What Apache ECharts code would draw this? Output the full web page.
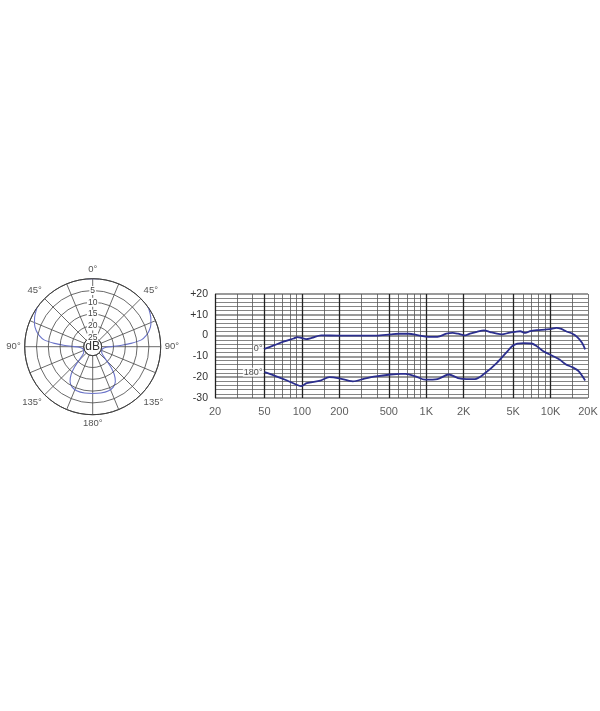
<!DOCTYPE html>
<html>
<head>
<meta charset="utf-8">
<script src="https://cdn.jsdelivr.net/npm/echarts@6/dist/echarts.min.js"></script>
<style>
  html, body { margin: 0; padding: 0; background: #fff; }
  #chart { width: 600px; height: 711px; }
</style>
</head>
<body>
<div id="chart"></div>
<script>
// ---- Frequency response data (Hz, dB) ----
const freq0 = [50, 60, 72, 86, 92, 99, 108, 120, 143, 200, 394, 518, 600, 722, 868, 1045, 1230, 1450, 1630, 1800, 2050, 2250, 2550, 2920, 3270, 3700, 4070, 4600, 5200, 5700, 6250, 6850, 7750, 9000, 10200, 11100, 12200, 13300, 15000, 16400, 17900, 18970];
const db0 = [-6.4, -4.6, -2.8, -1.4, -0.7, -1.1, -1.7, -1.1, 0.1, 0, 0, 0.6, 0.9, 0.9, 0.1, -0.6, -0.6, 0.9, 1.3, 0.9, 0.1, 0.9, 1.8, 2.5, 1.7, 0.9, 0.6, 1.3, 1.8, 2.1, 1.3, 2.1, 2.6, 2.9, 3.2, 3.7, 3.2, 2.1, 0.9, -0.7, -3.4, -6.6];

const freq180 = [50, 60, 76, 94, 99, 109, 141, 166, 195, 257, 318, 394, 518, 622, 680, 818, 980, 1230, 1520, 1800, 2110, 2470, 2980, 3700, 4460, 4900, 5400, 6070, 7070, 7750, 8750, 10500, 11800, 13300, 15000, 16800, 18970];
const db180 = [-17.6, -19.2, -21.6, -24.0, -24.3, -22.9, -21.6, -20.0, -20.4, -22.0, -20.7, -19.6, -18.7, -18.4, -18.4, -19.6, -21.2, -20.9, -18.7, -20.4, -20.9, -20.9, -18.0, -13.1, -7.8, -5.1, -3.8, -3.6, -3.8, -5.1, -7.5, -9.9, -11.5, -13.9, -15.2, -17.1, -21.6];

const curveNames = ['0°', '180°'];

// ---- Frequency axis ticks / grid ----
const tickFreqs = [20, 50, 100, 200, 500, 1000, 2000, 5000, 10000, 20000];
const tickLabels = ['20', '50', '100', '200', '500', '1K', '2K', '5K', '10K', '20K'];
const majorGridFreqs = [20, 50, 100, 200, 500, 1000, 2000, 5000, 10000];
const minorGridFreqs = [30, 40, 60, 70, 80, 90, 150, 300, 400, 600, 700, 800, 900, 1500, 3000, 4000, 6000, 7000, 8000, 9000, 15000, 20000];

// ---- Polar pattern data (angle in degrees, level in dB) ----
const polarAngles = [0, 10, 20, 30, 40, 50, 57, 63, 69, 74, 78, 82, 85, 87, 89, 92, 100, 112, 124, 131, 135, 138, 142, 147, 153, 160, 170, 180,
  190, 200, 207, 213, 218, 222, 225, 229, 236, 248, 260, 268, 271, 273, 275, 278, 282, 286, 291, 297, 303, 310, 320, 330, 340, 350, 360];
const polarDb = [0, 0.6, 1.1, 1.3, 1.2, 0.7, -0.3, -1.2, -2.4, -3.9, -5.6, -8, -12.5, -16.5, -20, -23, -24.4, -24.7, -24.2, -22.8, -20.5, -17.5, -14, -11.2, -9.6, -9.0, -8.9, -9.0,
  -8.9, -9.0, -9.6, -11.2, -14, -17.5, -20.5, -22.8, -24.2, -24.7, -24.4, -23, -20, -16.5, -12.5, -8, -5.6, -3.9, -2.4, -1.2, -0.3, 0.7, 1.2, 1.3, 1.1, 0.6, 0];

const FONT = 'Liberation Sans, Arial, sans-serif';
const polarCenter = [92.7, 346.7];

const chart = echarts.init(document.getElementById('chart'));

const option = {
  animation: false,
  backgroundColor: '#fff',
  textStyle: { fontFamily: FONT },
  graphic: [{
    type: 'text',
    x: polarCenter[0],
    y: polarCenter[1],
    z: 10,
    style: { text: 'dB', fill: '#333', font: '12px ' + FONT, align: 'center', verticalAlign: 'middle' }
  }],
  grid: { left: 215, right: 12, top: 294, bottom: 313 },
  xAxis: {
    type: 'log', logBase: 10, min: 20, max: 20000,
    axisLine: { show: false }, axisTick: { show: false },
    axisLabel: { show: false }, splitLine: { show: false }
  },
  yAxis: {
    type: 'value', min: -30, max: 20, interval: 10,
    axisLine: { show: false }, axisTick: { show: false },
    axisLabel: {
      color: '#333', fontSize: 10.5, margin: 7, fontFamily: FONT,
      formatter: v => (v > 0 ? '+' + v : String(v))
    },
    splitLine: { lineStyle: { color: '#9a9a9a', width: 2 } },
    minorTick: { show: false, splitNumber: 5 },
    minorSplitLine: { show: true, lineStyle: { color: '#666', width: 0.8 } }
  },
  polar: { center: polarCenter, radius: [9, 68] },
  angleAxis: {
    type: 'value', min: 0, max: 360, interval: 22.5,
    startAngle: 90, clockwise: true,
    axisLine: { lineStyle: { color: '#333', width: 1 } },
    axisTick: { show: false },
    splitLine: { lineStyle: { color: '#444', width: 0.8 } },
    axisLabel: {
      margin: 4, color: '#555', fontSize: 9.5, fontFamily: FONT,
      formatter: v => {
        if (v >= 360 || v % 45 !== 0) return '';
        const a = v > 180 ? 360 - v : v;
        return a + '°';
      }
    }
  },
  radiusAxis: {
    type: 'value', min: -25, max: 0, interval: 5, z: 5,
    axisLine: { show: false }, axisTick: { show: false },
    splitLine: { lineStyle: { color: '#444', width: 0.8 } },
    axisLabel: {
      margin: 0, align: 'center', verticalAlign: 'middle',
      backgroundColor: '#fff', padding: [0, 1],
      fontSize: 8.5, color: '#444', fontFamily: FONT,
      formatter: v => (v === 0 ? '' : String(-v))
    }
  },
  series: [
    {
      // grid lines and frequency tick labels
      type: 'scatter',
      silent: true,
      symbolSize: 0,
      z: 2,
      data: tickFreqs.map(f => [f, -30]),
      label: {
        show: true, position: 'bottom', distance: 8,
        color: '#333', fontSize: 11, fontFamily: FONT,
        formatter: p => tickLabels[p.dataIndex]
      },
      markLine: {
        silent: true,
        symbol: ['none', 'none'],
        label: { show: false },
        data: majorGridFreqs.map(f => ({ xAxis: f, lineStyle: { color: '#222', width: 1.3, type: 'solid' } }))
          .concat(minorGridFreqs.map(f => ({ xAxis: f, lineStyle: { color: '#555', width: 0.8, type: 'solid' } })))
      }
    },
    {
      name: '0°',
      type: 'line',
      data: freq0.map((f, i) => [f, db0[i]]),
      smooth: 0.3, showSymbol: false, silent: true, z: 5,
      lineStyle: { color: '#2b2e8e', width: 1.8 }
    },
    {
      name: '180°',
      type: 'line',
      data: freq180.map((f, i) => [f, db180[i]]),
      smooth: 0.3, showSymbol: false, silent: true, z: 5,
      lineStyle: { color: '#2b2e8e', width: 1.8 }
    },
    {
      // curve name labels at start of each curve
      type: 'scatter',
      silent: true,
      symbolSize: 0,
      z: 6,
      data: [[freq0[0], db0[0]], [freq180[0], db180[0]]],
      label: {
        show: true, position: 'left', distance: 1,
        color: '#222', fontSize: 9, fontFamily: FONT,
        backgroundColor: '#fff', padding: [0, 1],
        formatter: p => curveNames[p.dataIndex]
      }
    },
    {
      type: 'line',
      coordinateSystem: 'polar',
      data: polarAngles.map((a, i) => [polarDb[i], a]),
      smooth: 0.2, showSymbol: false, clip: false, silent: true, z: 3,
      lineStyle: { color: '#6b74c9', width: 1.1 }
    }
  ]
};

chart.setOption(option);
</script>
</body>
</html>
